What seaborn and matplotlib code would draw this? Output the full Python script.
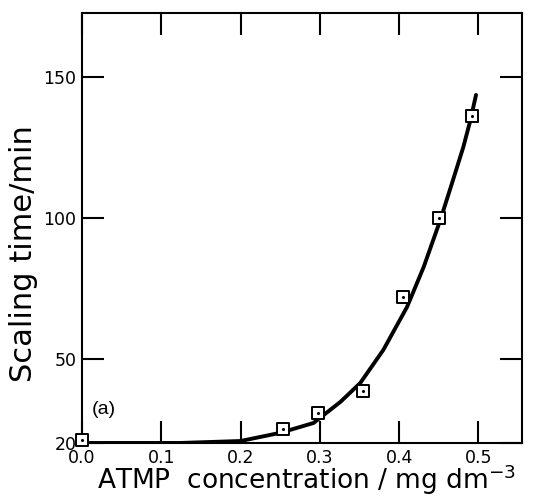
import numpy as np
import pandas as pd
import matplotlib
matplotlib.use("Agg")
import matplotlib.pyplot as plt
import seaborn as sns

# Measured scaling times
conc = [0.0, 0.253, 0.298, 0.355, 0.405, 0.450, 0.492]
scaling_time = [21.1, 25.0, 30.7, 38.5, 71.9, 99.9, 136.2]

# Smooth trend curve through the measurements
curve_conc = [0.0, 0.124, 0.200, 0.250, 0.292, 0.326, 0.351, 0.380,
              0.410, 0.431, 0.452, 0.468, 0.481, 0.490, 0.497]
curve_time = [20.0, 20.0, 20.7, 23.6, 27.1, 34.6, 41.3, 53.0,
              68.3, 82.5, 99.2, 113.4, 125.1, 134.7, 143.6]

x_ticks = [0.0, 0.1, 0.2, 0.3, 0.4, 0.5]
y_ticks = [20, 50, 100, 150]

sns.set_style("ticks")
plt.rcParams["font.family"] = ["DejaVu Sans"]
plt.rcParams["text.color"] = "black"
plt.rcParams["axes.labelcolor"] = "black"

pts = pd.DataFrame({"conc": conc, "time": scaling_time})
crv = pd.DataFrame({"conc": curve_conc, "time": curve_time})

fig = plt.figure(figsize=(5.34, 4.96), dpi=100)
ax = fig.add_axes([0.1536, 0.1069, 0.8239, 0.8669])

sns.lineplot(data=crv, x="conc", y="time", ax=ax, color="black",
             linewidth=2.8, sort=False, estimator=None,
             solid_joinstyle="round", solid_capstyle="round")
sns.scatterplot(data=pts, x="conc", y="time", ax=ax, marker="s", s=85,
                facecolor="white", edgecolor="black", linewidth=1.4,
                zorder=3, clip_on=False)
sns.scatterplot(data=pts, x="conc", y="time", ax=ax, marker="o", s=5,
                color="black", linewidth=0, zorder=4, clip_on=False)

ax.set_xlim(0.0, 0.555)
ax.set_ylim(20, 172.7)
ax.set_xticks(x_ticks)
ax.set_xticklabels([f"{v:.1f}" for v in x_ticks])
ax.set_yticks(y_ticks)
ax.set_yticklabels([str(v) for v in y_ticks])

for side in ["left", "right", "top", "bottom"]:
    ax.spines[side].set_visible(True)
    ax.spines[side].set_linewidth(1.5)
    ax.spines[side].set_color("black")

ax.tick_params(direction="in", length=16, width=1.5, top=True, right=True,
               labelsize=12.5, colors="black", labelcolor="black", pad=4)

ax.set_xlabel("ATMP  concentration / mg dm$^{-3}$", fontsize=19,
              color="black")
ax.set_ylabel("Scaling time/min", fontsize=22, color="black")
ax.xaxis.set_label_coords(0.51, -0.045)
ax.yaxis.set_label_coords(-0.1, 0.44)

ax.text(0.023, 0.077, "(a)", transform=ax.transAxes, fontsize=14,
        family="Liberation Sans", va="center", ha="left", color="black")

fig.savefig("out.png", dpi=100)
